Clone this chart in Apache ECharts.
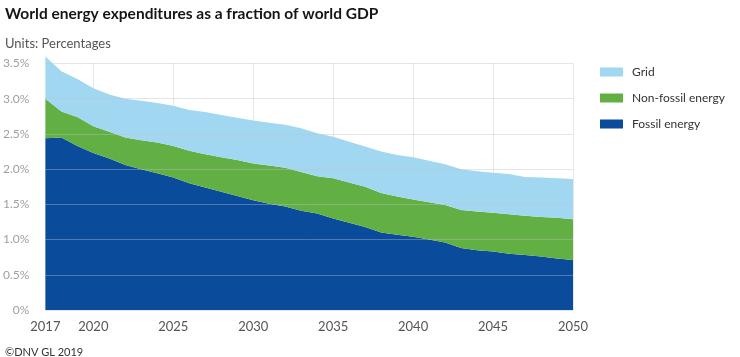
<!DOCTYPE html>
<html>
<head>
<meta charset="utf-8">
<script src="https://cdn.jsdelivr.net/npm/echarts@6/dist/echarts.min.js"></script>
<style>
  html, body { margin: 0; padding: 0; background: #fff; }
  #chart { width: 740px; height: 357px; }
</style>
</head>
<body>
<div id="chart"></div>
<script>
const years = ['2017','2018','2019','2020','2021','2022','2023','2024','2025','2026','2027','2028','2029','2030','2031','2032','2033','2034','2035','2036','2037','2038','2039','2040','2041','2042','2043','2044','2045','2046','2047','2048','2049','2050'];
const fossilEnergy = [2.44,2.45,2.33,2.23,2.15,2.06,2.00,1.94,1.88,1.80,1.74,1.68,1.62,1.56,1.51,1.47,1.41,1.37,1.30,1.24,1.18,1.10,1.07,1.04,1.00,0.96,0.88,0.85,0.83,0.80,0.78,0.76,0.73,0.71];
const nonFossilEnergy = [0.56,0.37,0.41,0.38,0.38,0.39,0.41,0.44,0.45,0.46,0.47,0.49,0.51,0.52,0.54,0.55,0.55,0.53,0.57,0.57,0.57,0.56,0.54,0.53,0.53,0.53,0.54,0.55,0.55,0.56,0.56,0.56,0.58,0.58];
const gridCost = [0.60,0.57,0.54,0.54,0.53,0.55,0.56,0.56,0.57,0.58,0.60,0.60,0.60,0.61,0.61,0.61,0.62,0.61,0.59,0.58,0.57,0.59,0.59,0.60,0.59,0.58,0.58,0.57,0.57,0.57,0.55,0.56,0.56,0.57];
const labeledYears = ['2017','2020','2025','2030','2035','2040','2045','2050'];
const gridYears = ['2020','2025','2030','2035','2040','2045','2050'];

const FONT = 'Lato, "Open Sans", sans-serif';
const chart = echarts.init(document.getElementById('chart'), null, { renderer: 'canvas' });

function areaSeries(name, data, color) {
  return {
    name: name,
    type: 'line',
    stack: 'total',
    data: data,
    showSymbol: false,
    symbol: 'none',
    clip: false,
    lineStyle: { width: 0 },
    areaStyle: { color: color, opacity: 1 },
    itemStyle: { color: color },
    emphasis: { disabled: true }
  };
}

chart.setOption({
  animation: false,
  textStyle: { fontFamily: FONT },
  title: [
    { text: 'World energy expenditures as a fraction of world GDP', left: 0, top: 1,
      textStyle: { fontFamily: FONT, fontSize: 15.5, fontWeight: 'bold', color: '#161616' } },
    { text: 'Units: Percentages', left: 0, top: 32,
      textStyle: { fontFamily: FONT, fontSize: 13, fontWeight: 'normal', color: '#555' } },
    { text: '©DNV GL 2019', left: 0, top: 342,
      textStyle: { fontFamily: FONT, fontSize: 11, fontWeight: 'normal', color: '#333' } }
  ],
  legend: {
    orient: 'vertical',
    left: 595,
    top: 60,
    itemWidth: 23,
    itemHeight: 9,
    itemGap: 12,
    icon: 'rect',
    data: ['Grid', 'Non-fossil energy', 'Fossil energy'],
    textStyle: { fontFamily: FONT, fontSize: 12, color: '#333', lineHeight: 14, padding: [0, 0, 0, 4] }
  },
  grid: { left: 43, right: 167, top: 63.5, bottom: 47, containLabel: false },
  xAxis: {
    type: 'category',
    data: years,
    boundaryGap: false,
    axisLine: { show: false },
    axisTick: { show: false },
    axisLabel: {
      interval: (i, v) => labeledYears.includes(v),
      fontFamily: FONT, fontSize: 13, color: '#555', margin: 10
    },
    splitLine: {
      show: true,
      interval: (i, v) => gridYears.includes(v),
      lineStyle: { color: '#d0d0d0', type: 'dotted', width: 1 }
    }
  },
  yAxis: {
    type: 'value',
    min: 0,
    max: 3.5,
    interval: 0.5,
    z: 5,
    axisLine: { show: false },
    axisTick: { show: false },
    axisLabel: {
      formatter: v => (v === 0 ? '0' : v.toFixed(1)) + '%',
      fontFamily: FONT, fontSize: 12, color: '#a0a0a0', margin: 16
    },
    splitLine: { lineStyle: { color: 'rgba(190,190,200,0.4)', width: 1 } }
  },
  series: [
    areaSeries('Fossil energy', fossilEnergy, '#0b4b9b'),
    areaSeries('Non-fossil energy', nonFossilEnergy, '#62b043'),
    areaSeries('Grid', gridCost, '#a2d7f2')
  ]
});
</script>
</body>
</html>
